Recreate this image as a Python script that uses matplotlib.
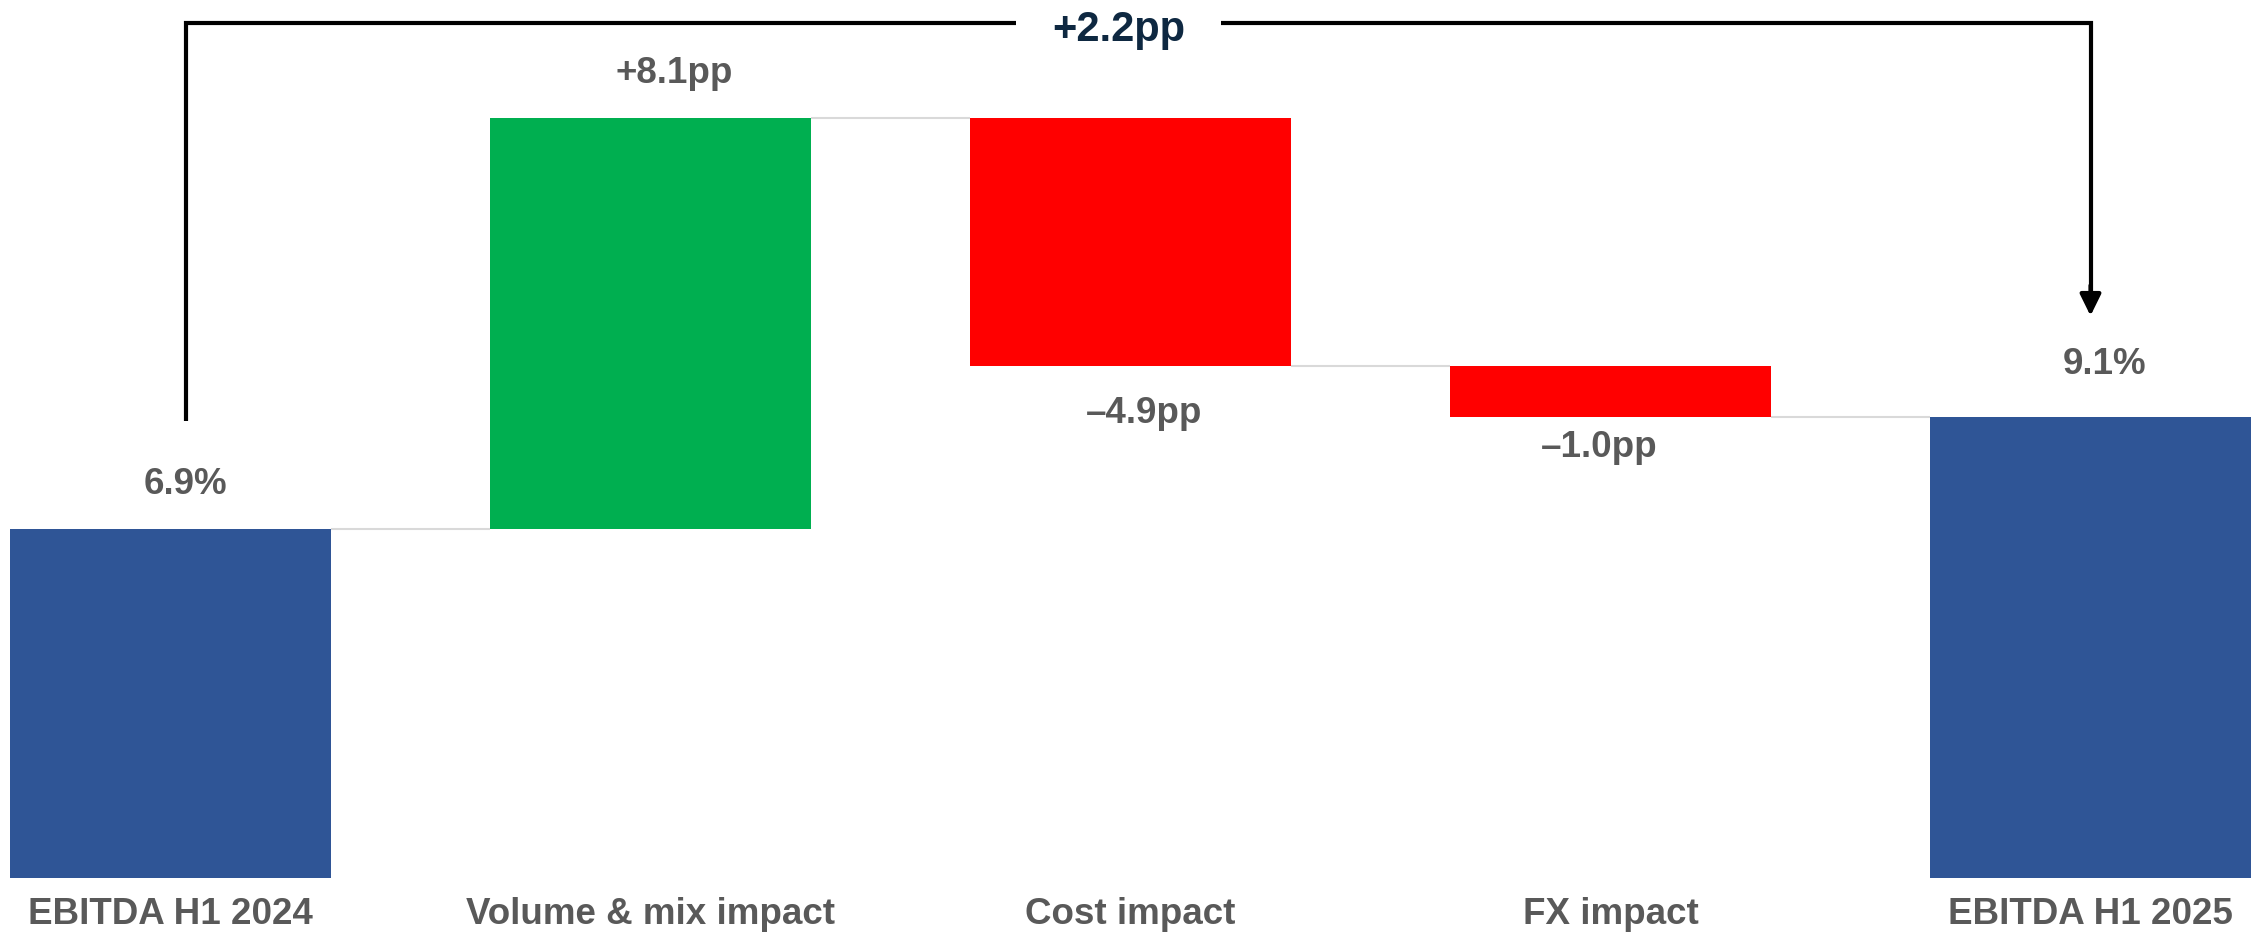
import matplotlib.pyplot as plt

plt.rcParams['font.family'] = ['Liberation Sans', 'DejaVu Sans']
plt.rcParams['font.weight'] = 'bold'

categories = ['EBITDA H1 2024', 'Volume & mix impact', 'Cost impact',
              'FX impact', 'EBITDA H1 2025']
start_value = 6.9
deltas = [8.1, -4.9, -1.0]
end_value = 9.1
value_labels = ['6.9%', '+8.1pp', '\u20134.9pp', '\u20131.0pp', '9.1%']
total_label = '+2.2pp'

BLUE = '#2F5596'
GREEN = '#00AF50'
RED = '#FF0000'
GREY_TEXT = '#595959'
NAVY = '#0E2841'

# waterfall geometry from the values
bottoms = [0]
heights = [start_value]
level = start_value
for d in deltas:
    bottoms.append(min(level, level + d))
    heights.append(abs(d))
    level += d
bottoms.append(0)
heights.append(end_value)
colors = [BLUE] + [GREEN if d > 0 else RED for d in deltas] + [BLUE]
levels = [start_value]
for d in deltas:
    levels.append(levels[-1] + d)

fig = plt.figure(figsize=(22.57, 9.42), dpi=100)
ax = fig.add_axes([0, 64 / 942, 1, 878 / 942])

x = list(range(len(categories)))
width = 0.667
ax.bar(x, heights, bottom=bottoms, width=width, color=colors, zorder=2)

# connectors between bars
for i, lv in enumerate(levels):
    ax.hlines(lv, i + width / 2, i + 1 - width / 2, color='#D9D9D9', lw=1.5, zorder=1)

# value labels (offsets in points: dx, dy)
offsets = [(11, 32), (17, 32), (10, -34), (-8, -22), (10, 38)]
for i, lab in enumerate(value_labels):
    top = bottoms[i] + heights[i]
    if i in (2, 3):
        y = bottoms[i]
    else:
        y = top
    ax.annotate(lab, (i, y), xytext=offsets[i], textcoords='offset points',
                ha='center', va='center', fontsize=26.5, color=GREY_TEXT,
                fontweight='bold')

# bracket with total change
x0, x1 = 0.032, 4.0
y_top = 16.88
y_start = 9.02
y_tip = 11.1
gap_l, gap_r = 1.761, 2.189
ax.plot([x0, x0, gap_l], [y_start, y_top, y_top], color='black', lw=3,
        solid_joinstyle='miter', solid_capstyle='butt', zorder=3)
ax.plot([gap_r, x1, x1], [y_top, y_top, y_tip + 0.4], color='black', lw=3,
        solid_joinstyle='miter', solid_capstyle='butt', zorder=3)
ax.annotate('', xy=(x1, y_tip), xytext=(x1, y_tip + 0.6),
            arrowprops=dict(arrowstyle='-|>,head_length=0.65,head_width=0.32',
                            mutation_scale=20, color='black', lw=3,
                            shrinkA=0, shrinkB=0))
ax.text((gap_l + gap_r) / 2, 16.74, total_label, ha='center', va='center',
        fontsize=30, color=NAVY, fontweight='bold')

ax.set_xlim(-170.5 / 480, (2257 - 170.5) / 480)
ax.set_ylim(0, 878 / 50.65)
ax.set_xticks(x, categories, fontsize=26.5, color=GREY_TEXT, fontweight='bold')
ax.tick_params(axis='x', length=0, pad=14)
ax.set_yticks([])
for s in ax.spines.values():
    s.set_visible(False)

fig.savefig('out.png', dpi=100)
